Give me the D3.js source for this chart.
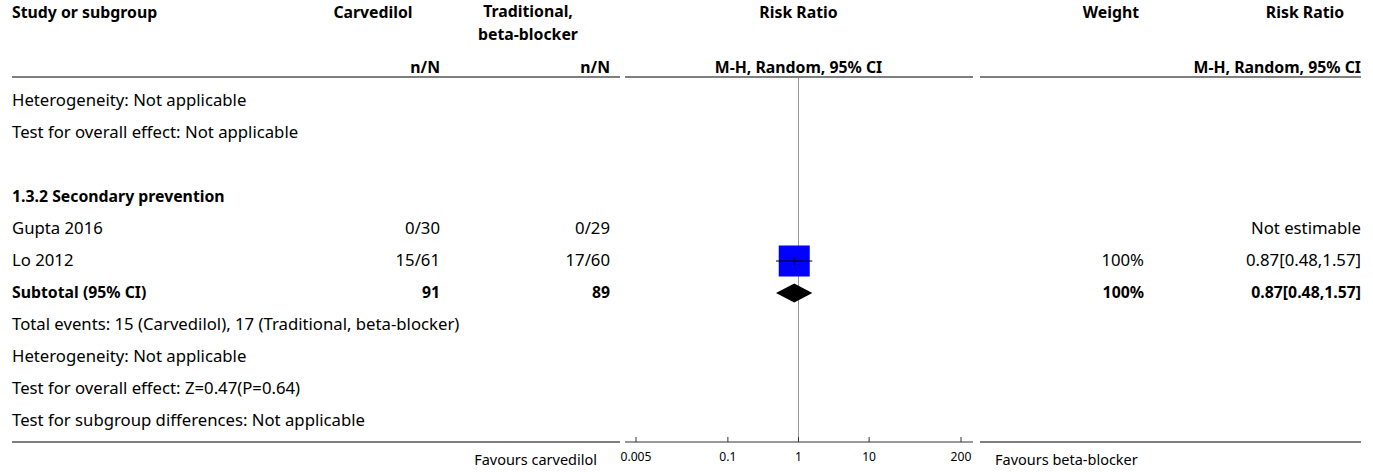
<!DOCTYPE html>
<html><head><meta charset="utf-8">
<script src="https://cdn.jsdelivr.net/npm/d3@7"></script>
<style>body{margin:0;background:#fff}svg text{font-family:"Noto Sans",sans-serif;fill:#000}</style>
</head><body><svg id="c" width="1373" height="472"></svg>
<script>
// ---- data ----
const headerCols = ["Study or subgroup","Carvedilol","Traditional,|beta-blocker","Risk Ratio","Weight","Risk Ratio"];
const subHeaders = ["n/N","n/N","M-H, Random, 95% CI","M-H, Random, 95% CI"];
const prevNotes = ["Heterogeneity: Not applicable","Test for overall effect: Not applicable"];
const subgroupTitle = "1.3.2 Secondary prevention";
const studies = ["Gupta 2016","Lo 2012"];
const carvEvents = ["0/30","15/61"];
const tradEvents = ["0/29","17/60"];
const rrEst = [null,0.87];
const rrLow = [null,0.48];
const rrHigh = [null,1.57];
const weights = [null,100];
const ciText = ["Not estimable","0.87[0.48,1.57]"];
const subtotal = {label:"Subtotal (95% CI)", carv:"91", trad:"89", rr:0.87, lo:0.48, hi:1.57, weight:"100%", ci:"0.87[0.48,1.57]"};
const postNotes = ["Total events: 15 (Carvedilol), 17 (Traditional, beta-blocker)","Heterogeneity: Not applicable","Test for overall effect: Z=0.47(P=0.64)","Test for subgroup differences: Not applicable"];
const tickValues = [0.005,0.1,1,10,200];
const favours = ["Favours carvedilol","Favours beta-blocker"];

// ---- layout ----
const svg = d3.select("#c");
function fit(pairs, bold){
  let w = 0, tgt = 0;
  pairs.forEach(([str,target])=>{
    const t = svg.append("text").attr("font-size",100).attr("font-weight",bold?"bold":"normal").text(str);
    w += t.node().getComputedTextLength(); t.remove(); tgt += target;
  });
  return 100*tgt/w;
}
const FS = fit([["Heterogeneity: Not applicable",229],["Test for subgroup differences: Not applicable",359],["Test for overall effect: Not applicable",278],[postNotes[0],455]], false);
const FB = fit([["Study or subgroup",140],["Subtotal (95% CI)",133],["M-H, Random, 95% CI",157],[subgroupTitle,236],["Carvedilol",80],["Risk Ratio",72]], true);
const FF = fit([[favours[0],123]], false);
const FT = fit([["0.005",31]], false);

const x = d3.scaleLog().domain([0.005,200]).range([636,961]);
const rowY = i => 100.5 + 32*i;
const headerLineY = 77, bottomY = 442;
const colCarv = 440, colTrad = 610, colW = 1144, colCI = 1361, leftX = 12;

function txt(s, xx, yy, anchor, bold, size){
  return svg.append("text").attr("x",xx).attr("y",yy).attr("dy","0.35em")
    .attr("text-anchor",anchor||"start").attr("font-size",size||(bold?FB:FS))
    .attr("font-weight",bold?"bold":"normal").text(s);
}

// headers
txt(headerCols[0], leftX, 12, "start", true);
txt(headerCols[1], 373, 12, "middle", true);
const lh = Math.ceil(FB*1.4);
headerCols[2].split("|").forEach((s,i)=>txt(s, 528, 11+lh*i, "middle", true));
txt(headerCols[3], x(1), 12, "middle", true);
txt(headerCols[4], 1111, 12, "middle", true);
txt(headerCols[5], 1305, 12, "middle", true);
txt(subHeaders[0], colCarv, 67, "end", true);
txt(subHeaders[1], colTrad, 67, "end", true);
txt(subHeaders[2], x(1), 67, "middle", true);
txt(subHeaders[3], colCI, 67, "end", true);

// lines
const segs = [[leftX,620],[625,973],[980,colCI]];
segs.forEach(s=>{
  svg.append("line").attr("x1",s[0]).attr("x2",s[1]).attr("y1",headerLineY).attr("y2",headerLineY).attr("stroke","#000").attr("stroke-width",1.2);
});
[[leftX,620],[980,colCI]].forEach(s=>{
  svg.append("line").attr("x1",s[0]).attr("x2",s[1]).attr("y1",bottomY).attr("y2",bottomY).attr("stroke","#000").attr("stroke-width",1.2);
});
// null line
svg.append("line").attr("x1",x(1)).attr("x2",x(1)).attr("y1",headerLineY+1).attr("y2",bottomY)
  .attr("stroke","#999").attr("stroke-width",1);

// axis
const ag = svg.append("g").attr("transform",`translate(0,${bottomY})`);
ag.append("line").attr("x1",625).attr("x2",973).attr("stroke","#333").attr("stroke-width",1.2);
ag.selectAll("line.tk").data(tickValues).enter().append("line").attr("class","tk")
  .attr("x1",d=>x(d)).attr("x2",d=>x(d)).attr("y1",0).attr("y2",-5).attr("stroke","#333");
ag.selectAll("text.tl").data(tickValues).enter().append("text").attr("class","tl")
  .attr("x",d=>x(d)).attr("y",15).attr("dy","0.35em").attr("text-anchor","middle")
  .attr("font-size",FT).text(d=>String(d));
txt(favours[0], 597, bottomY+18, "end", false, FF);
txt(favours[1], 995, bottomY+18, "start", false, FF);

// pre notes
prevNotes.forEach((s,i)=>txt(s, leftX, rowY(i)));
txt(subgroupTitle, leftX, rowY(3), "start", true);

const sq = d3.scaleSqrt().domain([0,100]).range([0,31]);
studies.forEach((s,i)=>{
  const yy = rowY(4+i);
  txt(s, leftX, yy);
  txt(carvEvents[i], colCarv, yy, "end");
  txt(tradEvents[i], colTrad, yy, "end");
  if (weights[i]!=null) txt(weights[i]+"%", colW, yy, "end");
  txt(ciText[i], colCI, yy, "end");
  if (rrEst[i]!=null){
    const w = sq(weights[i]);
    const cy = yy + 0.5;
    svg.append("rect").attr("x",x(rrEst[i])-w/2).attr("y",cy-w/2).attr("width",w).attr("height",w).attr("fill","#0000ff");
    svg.append("line").attr("x1",x(rrLow[i])).attr("x2",x(rrHigh[i])).attr("y1",cy).attr("y2",cy).attr("stroke","#000").attr("stroke-width",1);
    svg.append("line").attr("x1",x(rrEst[i])).attr("x2",x(rrEst[i])).attr("y1",cy-4).attr("y2",cy+4).attr("stroke","#000").attr("stroke-width",1);
  }
});
// subtotal
{
  const yy = rowY(6) + 0.5;
  txt(subtotal.label, leftX, rowY(6), "start", true);
  txt(subtotal.carv, colCarv, rowY(6), "end", true);
  txt(subtotal.trad, colTrad, rowY(6), "end", true);
  txt(subtotal.weight, colW, rowY(6), "end", true);
  txt(subtotal.ci, colCI, rowY(6), "end", true);
  const h = 9.5;
  svg.append("path").attr("d",`M${x(subtotal.lo)},${yy}L${x(subtotal.rr)},${yy-h}L${x(subtotal.hi)},${yy}L${x(subtotal.rr)},${yy+h}Z`).attr("fill","#000");
}
postNotes.forEach((s,i)=>txt(s, leftX, rowY(7+i)));
</script></body></html>
